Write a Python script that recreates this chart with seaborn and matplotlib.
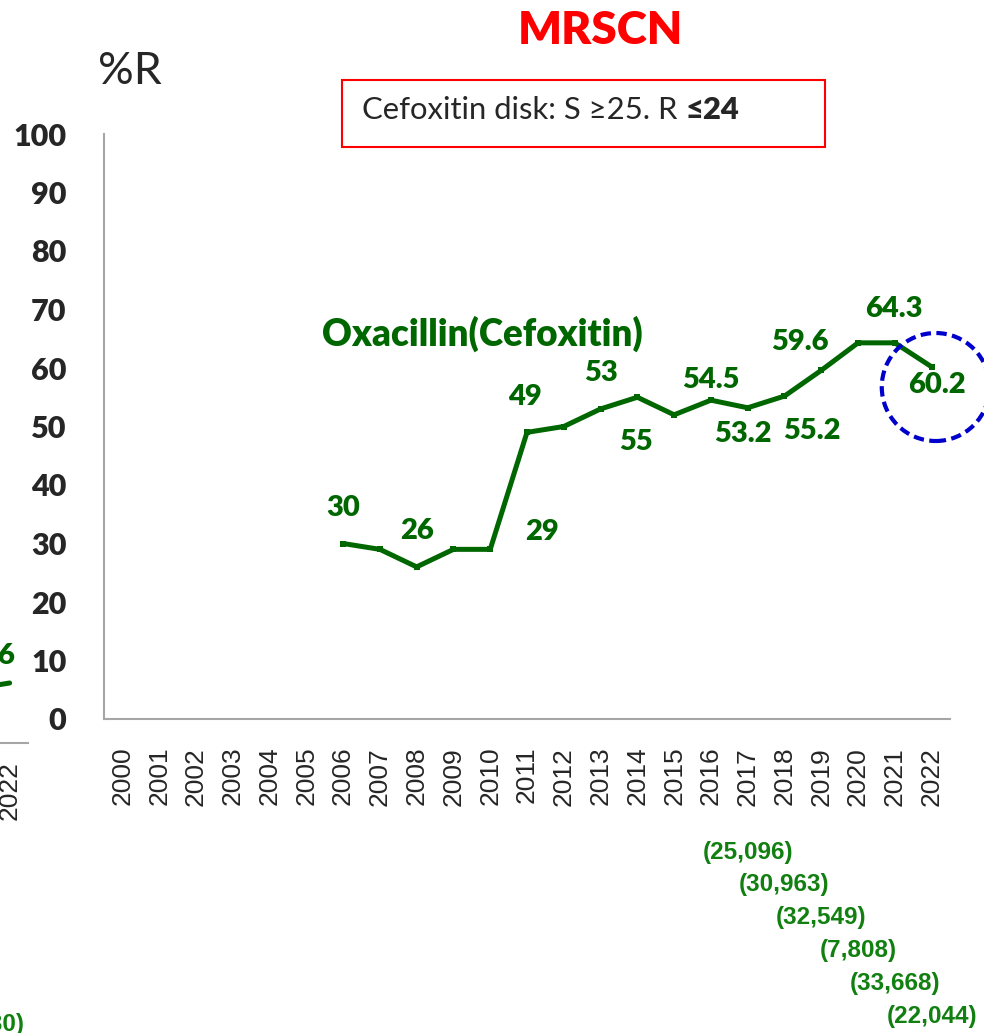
import numpy as np
import pandas as pd
import matplotlib
matplotlib.use("Agg")
import matplotlib.pyplot as plt
import matplotlib.transforms as mtransforms
from matplotlib.patches import Ellipse, Rectangle
import seaborn as sns

# data
all_years = list(range(2000, 2023))
oxa_years = [2006, 2007, 2008, 2009, 2010, 2011, 2012, 2013, 2014, 2015,
             2016, 2017, 2018, 2019, 2020, 2021, 2022]
oxa_values = [30, 29, 26, 29, 29, 49, 50, 53, 55, 52,
              54.5, 53.2, 55.2, 59.6, 64.3, 64.3, 60.2]

# value labels as they appear on the slide
label_texts = ["30", "26", "29", "49", "53", "55", "54.5", "53.2", "55.2", "59.6", "64.3", "60.2"]
label_x = [6.0, 8.0, 11.4, 10.94, 13.0, 13.96, 16.0, 16.86, 18.74, 18.41, 20.97, 22.14]
label_y = [36.1, 32.1, 32.0, 55.0, 59.1, 47.4, 57.9, 48.7, 49.2, 64.4, 70.1, 57.1]

# isolate counts under the axis
sample_years = [2017, 2018, 2019, 2020, 2021, 2022]
sample_sizes = ["(25,096)", "(30,963)", "(32,549)", "(7,808)", "(33,668)", "(22,044)"]

# cropped neighbour chart on the left edge
nb_years = ["2021", "2022"]
nb_values = [5.4, 6]

GREEN = "#006600"
GRAY = "#a6a6a6"
BOLD = "heavy"

sns.set_style("white")
plt.rcParams["font.family"] = ["Lato", "DejaVu Sans"]

W, H = 984, 1033
fig = plt.figure(figsize=(W / 100, H / 100), dpi=100)


def px_box(x0, y_top, w, h):
    return [x0 / W, 1 - (y_top + h) / H, w / W, h / H]


ax = fig.add_axes(px_box(104, 134, 846, 585))

df = pd.DataFrame({"x": [y - 2000 for y in oxa_years], "value": oxa_values})
sns.lineplot(data=df, x="x", y="value", ax=ax, color=GREEN, linewidth=3.6,
             marker="s", markersize=4, markeredgewidth=0)

ax.set_xlim(-0.5, len(all_years) - 0.5)
ax.set_ylim(0, 100)
ax.set_xlabel("")
ax.set_ylabel("")

for s in ["top", "right"]:
    ax.spines[s].set_visible(False)
for s in ["left", "bottom"]:
    ax.spines[s].set_color(GRAY)
    ax.spines[s].set_linewidth(1.5)

ax.set_xticks(range(len(all_years)))
ax.set_xticklabels([str(y) for y in all_years], rotation=90,
                   fontsize=19, family="Liberation Sans", va="top")
ax.set_xticks(np.arange(-0.5, len(all_years), 1), minor=True)
ax.tick_params(axis="x", which="major", length=0, pad=20)
ax.tick_params(axis="x", which="minor", length=9.5, width=1.2, color=GRAY, direction="out")

ax.set_yticks(range(0, 101, 10))
ax.set_yticklabels([str(v) for v in range(0, 101, 10)], fontsize=22, fontweight=BOLD)
ax.tick_params(axis="y", length=9, width=1.2, color=GRAY, pad=18, direction="out")

for t, lx, ly in zip(label_texts, label_x, label_y):
    ax.text(lx, ly, t, color=GREEN, fontsize=21, fontweight=BOLD,
            ha="center", va="center")

ax.text(9.8, 65.8, "Oxacillin(Cefoxitin)", color=GREEN, fontsize=26.5,
        fontweight=BOLD, ha="center", va="center")

ax.add_patch(Ellipse((22.11, 56.75), width=2.93, height=18.46, fill=False,
                     edgecolor="#0000cc", linewidth=3, linestyle=(0, (2.5, 1.3)),
                     clip_on=False, zorder=5))

# counts below the axis, centred on their years
blend = mtransforms.blended_transform_factory(ax.transData, fig.transFigure)
for i, (yr, n) in enumerate(zip(sample_years, sample_sizes)):
    ax.text(yr - 2000, 1 - (852 + 32.8 * i) / H, n, transform=blend,
            color="#118011", fontsize=17.5, fontweight="bold",
            family="Liberation Sans", ha="center", va="center")

# title, unit and criteria box
fig.text(600 / W, 1 - 30 / H, "MRSCN", color="#ff0000", fontsize=33,
         fontweight=BOLD, ha="center", va="center")
fig.text(98 / W, 1 - 71 / H, "%R", fontsize=32, ha="left", va="center")
fig.patches.append(Rectangle((342 / W, 1 - 147 / H), 483 / W, 67 / H,
                             transform=fig.transFigure, fill=False,
                             edgecolor="#ff0000", linewidth=1.5))
t1 = fig.text(362 / W, 1 - 110 / H, "Cefoxitin disk: S ≥25. R", fontsize=22.3,
              ha="left", va="center")
ax.annotate("≤24", xy=(1, 0), xycoords=t1, xytext=(6, 0), textcoords="offset points",
            fontsize=22.3, fontweight=BOLD, ha="left", va="bottom")

# cropped neighbour chart at the left edge (only its last year is visible)
ax0 = fig.add_axes(px_box(28 - 36.8 * 2, 643, 36.8 * 2, 100))
ax0.plot(range(len(nb_years)), nb_values, color=GREEN, linewidth=3.6)
ax0.set_xlim(-0.5, len(nb_years) - 0.5)
ax0.set_ylim(0, 10)
ax0.patch.set_visible(False)
for s in ["top", "right", "left"]:
    ax0.spines[s].set_visible(False)
ax0.spines["bottom"].set_color(GRAY)
ax0.spines["bottom"].set_linewidth(1.5)
ax0.set_yticks([])
ax0.set_xticks([len(nb_years) - 1])
ax0.set_xticklabels(nb_years[-1:], rotation=90, fontsize=19, family="Liberation Sans", va="top")
ax0.set_xticks([0.5, 1.5], minor=True)
ax0.tick_params(axis="x", which="major", length=0, pad=13)
ax0.tick_params(axis="x", which="minor", length=9, width=1.2, color=GRAY)
ax0.text(len(nb_years) - 1.1, 8.7, "6", color=GREEN, fontsize=21,
         fontweight=BOLD, ha="center", va="center")
fig.text(25 / W, 1 - 1025 / H, "(1,830)", color="#118011", fontsize=17.5,
         fontweight="bold", family="Liberation Sans", ha="right", va="center")

fig.savefig("out.png", dpi=100)
